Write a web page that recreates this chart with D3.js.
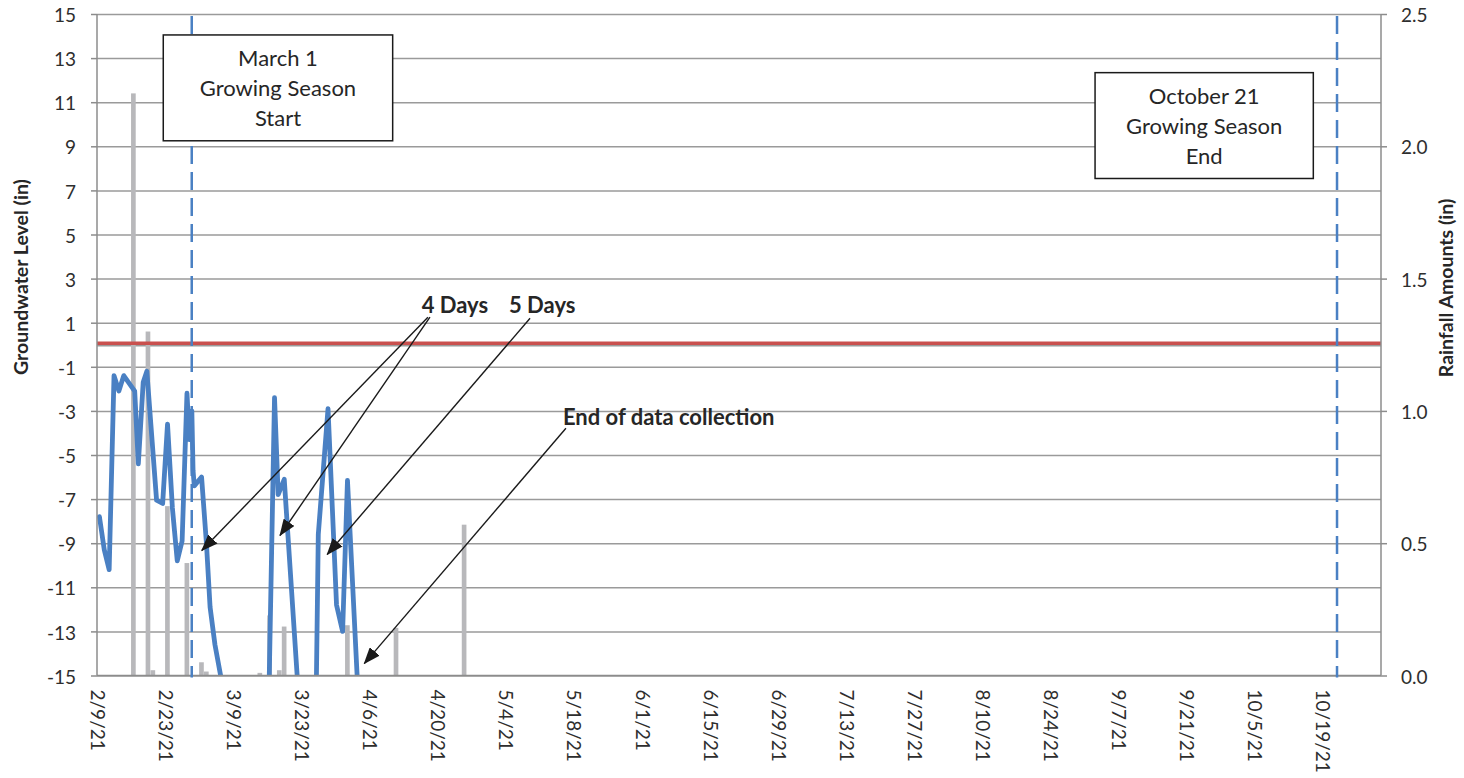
<!DOCTYPE html>
<html><head><meta charset="utf-8">
<script src="https://cdn.jsdelivr.net/npm/d3@7"></script>
<style>
body{margin:0;background:#fff}
svg{display:block}
text{font-family:Lato,"Open Sans",sans-serif}
</style>
</head><body>
<svg id="chart" width="1464" height="778"></svg>
<script>
// ---------------- data ----------------
const xDomain = ["2021-02-09T00:00Z", "2021-10-31T00:00Z"];
const xTickLabels = ["2/9/21","2/23/21","3/9/21","3/23/21","4/6/21","4/20/21","5/4/21","5/18/21","6/1/21",
  "6/15/21","6/29/21","7/13/21","7/27/21","8/10/21","8/24/21","9/7/21","9/21/21","10/5/21","10/19/21"];
const gwTicks = [-15,-13,-11,-9,-7,-5,-3,-1,1,3,5,7,9,11,13,15];
const rainTicks = [0, 0.5, 1.0, 1.5, 2.0, 2.5];

const gwTimes = [
  "2021-02-09T12:00Z","2021-02-10T12:00Z","2021-02-11T12:00Z","2021-02-12T12:00Z","2021-02-13T12:00Z",
  "2021-02-14T12:00Z","2021-02-16T18:00Z","2021-02-17T12:00Z","2021-02-18T12:00Z","2021-02-19T06:00Z",
  "2021-02-21T06:00Z","2021-02-22T12:00Z","2021-02-23T12:00Z","2021-02-24T12:00Z","2021-02-25T12:00Z",
  "2021-02-26T12:00Z","2021-02-27T12:00Z","2021-02-28T00:00Z","2021-02-28T12:00Z","2021-02-28T18:00Z",
  "2021-03-01T00:00Z","2021-03-02T12:00Z","2021-03-03T12:00Z","2021-03-04T06:00Z","2021-03-05T06:00Z",
  "2021-03-06T12:00Z","2021-03-06T18:00Z",
  "2021-03-16T06:00Z","2021-03-17T12:00Z","2021-03-18T06:00Z","2021-03-19T12:00Z","2021-03-22T18:00Z",
  "2021-03-26T00:00Z","2021-03-26T12:00Z","2021-03-28T12:00Z","2021-03-30T06:00Z","2021-03-31T12:00Z",
  "2021-04-01T12:00Z","2021-04-03T18:00Z"
];
const gwLevels = [
  -7.8, -9.3, -10.2, -1.4, -2.1,
  -1.4, -2.1, -5.4, -1.7, -1.2,
  -7.05, -7.2, -3.6, -7.4, -9.8,
  -8.9, -2.2, -4.3, -3.0, -5.7,
  -6.4, -6.0, -9.0, -11.9, -13.6,
  -15.1, -16.0,
  -17.0, -2.4, -6.8, -6.1, -17.0,
  -17.0, -8.6, -2.9, -11.8, -13.0,
  -6.15, -16.2
];

const rainDates = ["2021-02-16","2021-02-19","2021-02-20","2021-02-23","2021-02-27","2021-03-02","2021-03-03",
  "2021-03-14","2021-03-16","2021-03-18","2021-03-19","2021-04-01","2021-04-11","2021-04-25"];
const rainAmounts = [2.20, 1.30, 0.02, 0.64, 0.425, 0.05, 0.015, 0.01, 0.227, 0.02, 0.185, 0.19, 0.18, 0.57];

const thresholdLevel = 0.07;
const baseLevel = -0.04;

const seasonLineDates = ["2021-02-28T11:30Z", "2021-10-21T23:00Z"];
const seasonBoxes = [
  {lines:["March 1","Growing Season","Start"], from:"2021-02-22T15:00Z", to:"2021-04-10T19:00Z", top:14.05, bottom:9.25},
  {lines:["October 21","Growing Season","End"], from:"2021-09-02T05:00Z", to:"2021-10-17T02:00Z", top:12.34, bottom:7.54}
];
const arrowNotes = [
  {fromT:"2021-04-18T01:00Z", fromV:1.25, toT:"2021-03-02T13:00Z", toV:-9.33},
  {fromT:"2021-04-18T11:00Z", fromV:1.25, toT:"2021-03-18T15:00Z", toV:-8.65},
  {fromT:"2021-05-09T01:00Z", fromV:1.20, toT:"2021-03-28T08:00Z", toV:-9.51},
  {fromT:"2021-05-16T10:00Z", fromV:-3.79, toT:"2021-04-04T23:00Z", toV:-14.46}
];
const textNotes = [
  {text:"4 Days", t:"2021-04-16T18:00Z", v:1.43},
  {text:"5 Days", t:"2021-05-04T17:00Z", v:1.43},
  {text:"End of data collection", t:"2021-05-15T19:00Z", v:-3.65}
];

// ---------------- layout ----------------
const L = 97, R = 1381, T = 14, B = 675.5;
const svg = d3.select("#chart");
const P = d3.isoParse;
const parseTick = d3.utcParse("%m/%d/%y");

const x = d3.scaleUtc().domain(xDomain.map(P)).range([L, R]);
const y = d3.scaleLinear().domain([-15, 15]).range([B, T]);
const y2 = d3.scaleLinear().domain([0, 2.5]).range([B, T]);

const gridCol = "#9a9a9a", axisCol = "#8c8c8c", txtCol = "#2e2e2e";
const tickFont = 19;

svg.append("defs").append("clipPath").attr("id","plot")
  .append("rect").attr("x", L).attr("y", T).attr("width", R - L).attr("height", B - T);

// gridlines
svg.append("g").attr("transform", `translate(${L},0)`)
  .call(d3.axisLeft(y).tickValues(gwTicks).tickSize(-(R - L)).tickFormat(""))
  .call(g => g.select(".domain").remove())
  .call(g => g.selectAll("line").attr("stroke", gridCol).attr("stroke-width", 1.5));

svg.append("line").attr("x1", L).attr("x2", R).attr("y1", y(baseLevel)).attr("y2", y(baseLevel))
  .attr("stroke", gridCol).attr("stroke-width", 1.5);

// rain bars
svg.append("g").selectAll("rect").data(rainDates.map((d, i) => ({t: P(d + "T00:00Z"), v: rainAmounts[i]})))
  .join("rect")
  .attr("x", d => x(d.t))
  .attr("width", d => x(d3.utcDay.offset(d.t, 1)) - x(d.t) - 0.2)
  .attr("y", d => y2(d.v))
  .attr("height", d => y2(0) - y2(d.v))
  .attr("fill", "#b8b8bb");

svg.append("line").attr("x1", L).attr("x2", R).attr("y1", y(thresholdLevel)).attr("y2", y(thresholdLevel))
  .attr("stroke", "#c9504e").attr("stroke-width", 3.5);

// groundwater line
const gw = gwTimes.map((t, i) => ({t: P(t), v: gwLevels[i]}));
svg.append("path").datum(gw)
  .attr("clip-path", "url(#plot)")
  .attr("d", d3.line().x(d => x(d.t)).y(d => y(d.v)))
  .attr("fill", "none").attr("stroke", "#4a80c3").attr("stroke-width", 4.8)
  .attr("stroke-linejoin", "round").attr("stroke-linecap", "round");

// axis lines
svg.append("line").attr("x1", L).attr("x2", L).attr("y1", T).attr("y2", B).attr("stroke", axisCol).attr("stroke-width", 1.5);
svg.append("line").attr("x1", R).attr("x2", R).attr("y1", T).attr("y2", B).attr("stroke", axisCol).attr("stroke-width", 1.5);
svg.append("line").attr("x1", L).attr("x2", R).attr("y1", B).attr("y2", B).attr("stroke", axisCol).attr("stroke-width", 1.5);

// left axis
svg.append("g").attr("transform", `translate(${L},0)`)
  .call(d3.axisLeft(y).tickValues(gwTicks).tickSize(6).tickPadding(15).tickFormat(d => String(d)))
  .call(g => g.select(".domain").remove())
  .call(g => g.selectAll("line").attr("stroke", axisCol).attr("stroke-width", 1.5))
  .call(g => g.selectAll("text").attr("fill", txtCol).attr("font-size", tickFont).attr("font-family", "Lato").attr("dy", "0.4em"));

// right axis
svg.append("g").attr("transform", `translate(${R},0)`)
  .call(d3.axisRight(y2).tickValues(rainTicks).tickSize(6).tickPadding(14).tickFormat(d3.format(".1f")))
  .call(g => g.select(".domain").remove())
  .call(g => g.selectAll("line").attr("stroke", axisCol).attr("stroke-width", 1.5))
  .call(g => g.selectAll("text").attr("fill", txtCol).attr("font-size", tickFont).attr("font-family", "Lato").attr("dy", "0.4em"));

// bottom axis
svg.append("g").attr("transform", `translate(0,${B})`)
  .call(d3.axisBottom(x).tickValues(xTickLabels.map(parseTick)).tickSize(0).tickFormat((d, i) => xTickLabels[i]))
  .call(g => g.select(".domain").remove())
  .call(g => g.selectAll("text")
    .attr("fill", txtCol).attr("font-size", tickFont).attr("font-family", "Lato")
    .attr("text-anchor", "start").attr("transform", "rotate(90)")
    .attr("x", 14).attr("y", 0).attr("dy", "0.35em"));

// axis titles
svg.append("text").attr("transform", "translate(21,277) rotate(-90)")
  .attr("text-anchor", "middle").attr("dy", "0.35em")
  .attr("font-weight", "bold").attr("font-size", 19.5).attr("fill", "#262626")
  .text("Groundwater Level (in)");
svg.append("text").attr("transform", "translate(1446,288) rotate(-90)")
  .attr("text-anchor", "middle").attr("dy", "0.35em")
  .attr("font-weight", "bold").attr("font-size", 19.5).attr("fill", "#262626")
  .text("Rainfall Amounts (in)");

// season dashed lines
svg.append("g").selectAll("line").data(seasonLineDates.map(P)).join("line")
  .attr("x1", d => x(d)).attr("x2", d => x(d)).attr("y1", T + 2).attr("y2", B + 2)
  .attr("stroke", "#4a80c3").attr("stroke-width", 2.5).attr("stroke-dasharray", "18,8");

// season boxes
const box = svg.append("g").selectAll("g").data(seasonBoxes).join("g");
box.append("rect")
  .attr("x", d => x(P(d.from))).attr("y", d => y(d.top))
  .attr("width", d => x(P(d.to)) - x(P(d.from))).attr("height", d => y(d.bottom) - y(d.top))
  .attr("fill", "#fff").attr("stroke", "#1a1a1a").attr("stroke-width", 1.5);
box.each(function(d) {
  const cx = (x(P(d.from)) + x(P(d.to))) / 2;
  d3.select(this).selectAll("text").data(d.lines).join("text")
    .attr("x", cx).attr("y", (s, i) => y(d.top) + 31.5 + i * 29.7)
    .attr("text-anchor", "middle").attr("font-size", 22).attr("fill", "#262626").text(s => s);
});

// arrows
svg.append("defs").append("marker").attr("id", "ah")
  .attr("markerUnits", "userSpaceOnUse").attr("markerWidth", 17).attr("markerHeight", 13)
  .attr("refX", 16).attr("refY", 6.5).attr("orient", "auto")
  .append("path").attr("d", "M0,0 L17,6.5 L0,13 Z").attr("fill", "#1a1a1a");
svg.append("g").selectAll("line").data(arrowNotes).join("line")
  .attr("x1", d => x(P(d.fromT))).attr("y1", d => y(d.fromV))
  .attr("x2", d => x(P(d.toT))).attr("y2", d => y(d.toV))
  .attr("stroke", "#1a1a1a").attr("stroke-width", 1.4).attr("marker-end", "url(#ah)");

svg.append("g").selectAll("text").data(textNotes).join("text")
  .attr("x", d => x(P(d.t))).attr("y", d => y(d.v))
  .attr("font-weight", "bold").attr("font-size", 22).attr("fill", "#262626").text(d => d.text);
</script>
</body></html>
